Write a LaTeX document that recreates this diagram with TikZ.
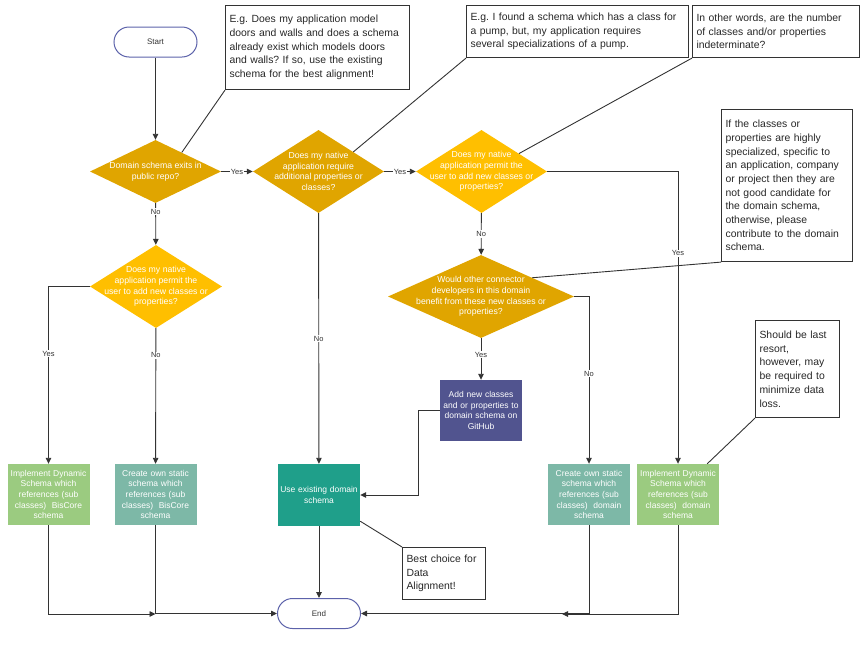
\documentclass[tikz,border=0pt]{standalone}
\usepackage{fontspec}
\setmainfont{Liberation Sans}
\usetikzlibrary{shapes.geometric,calc,arrows.meta}
\frenchspacing
\definecolor{gold}{HTML}{E0A500}
\definecolor{amber}{HTML}{FFBF00}
\definecolor{leaf}{HTML}{9BCB80}
\definecolor{sage}{HTML}{7DB8A7}
\definecolor{jade}{HTML}{1F9F8A}
\definecolor{indigo}{HTML}{51548F}
\definecolor{rim}{HTML}{5C62AA}
\tikzset{
  term/.style={draw=rim,line width=1pt,rounded corners=15pt,minimum width=83pt,minimum height=30pt,font=\fontsize{8}{10}\selectfont,text=black!80},
  dec/.style={diamond,inner sep=0pt,minimum width=131pt,minimum height=83pt},
  dtext/.style={text=white,align=center,inner sep=0pt,font=\fontsize{8.7}{10.6}\selectfont},
  proc/.style={minimum width=82pt,minimum height=61pt,text width=82pt,inner sep=0pt,align=center,text=white,font=\fontsize{8.5}{10.7}\selectfont},
  note/.style={draw=black!80,line width=1.1pt,anchor=north west,align=left,inner sep=4pt,font=\fontsize{10.4}{13.7}\selectfont,text=black!85},
  lbl/.style={fill=white,inner sep=1pt,font=\fontsize{7.5}{9}\selectfont,text=black!80},
  link/.style={draw=black!80,line width=0.9pt}
}
\begin{document}
\begin{tikzpicture}[x=1pt,y=-1pt,>={Triangle[length=6pt,width=5.5pt]}]
\useasboundingbox (0,0) rectangle (865,659);
% terminals
\node[term] (start) at (155.5,42) {Start};
\node[term] (end) at (319,613.5) {End};
% decisions
\node[dec,fill=gold,minimum height=63pt] (d1) at (155.5,171.5) {};
\node[dtext] (t1) at (d1) {Domain schema exits in\\public repo?};
\node[dec,fill=gold] (d2) at (318.5,171.5) {};
\node[dtext] (t2) at (d2) {Does my native\\application require\\additional properties or\\classes?};
\node[dec,fill=amber] (d3) at (481.5,171.5) {};
\node[dtext] (t3) at (d3) {Does my native\\application permit the\\user to add new classes or\\properties?};
\node[dec,fill=gold,minimum width=186pt] (d4) at (481,296.5) {};
\node[dtext] (t4) at (d4) {Would other connector\\developers in this domain\\benefit from these new classes or\\properties?};
\node[dec,fill=amber,minimum width=132pt] (d5) at (156,286.5) {};
\node[dtext] (t5) at (d5) {Does my native\\application permit the\\user to add new classes or\\properties?};
% processes
\node[proc,fill=leaf] (impl1) at (48.5,494.5) {Implement Dynamic\\Schema which\\references (sub\\classes)~~BisCore\\schema};
\node[proc,fill=sage] (cre1) at (155.5,494.5) {Create own static\\schema which\\references (sub\\classes)~~BisCore\\schema};
\node[proc,fill=jade,minimum height=62pt] (use) at (319,495) {Use existing domain\\schema};
\node[proc,fill=indigo] (add) at (481,410.5) {Add new classes\\and or properties to\\domain schema on\\GitHub};
\node[proc,fill=sage] (cre2) at (589,494.5) {Create own static\\schema which\\references (sub\\classes)~~domain\\schema};
\node[proc,fill=leaf] (impl2) at (678,494.5) {Implement Dynamic\\Schema which\\references (sub\\classes)~~domain\\schema};
% notes
\node[note,text width=176pt,minimum height=84pt] (n1) at (225,5) {E.g. Does my application model\\doors and walls and does a schema\\already exist which models doors\\and walls? If so, use the existing\\schema for the best alignment!};
\node[note,text width=214pt,minimum height=52pt] (n2) at (466,5) {E.g. I found a schema which has a class for\\a pump, but, my application requires\\several specializations of a pump.};
\node[note,text width=159pt,minimum height=52pt] (n3) at (692,5) {In other words, are the number\\of classes and/or properties\\indeterminate?};
\node[note,text width=123pt,minimum height=152pt] (n4) at (721,109) {If the classes or\\properties are highly\\specialized, specific to\\an application, company\\or project then they are\\not good candidate for\\the domain schema,\\otherwise, please\\contribute to the domain\\schema.};
\node[note,text width=75pt,minimum height=52pt] (n5) at (402,547) {Best choice for\\Data\\Alignment!};
\node[note,text width=76pt,minimum height=97pt] (n6) at (755,320) {Should be last\\resort,\\however, may\\be required to\\minimize data\\loss.};
\coordinate (j1) at (155.5,614);
\coordinate (j2) at (562,614);
% flow
\draw[link,->] (start) -- (d1);
\draw[link,->] (d1) -- node[lbl]{Yes} (d2);
\draw[link,->] (d2) -- node[lbl]{Yes} (d3);
\draw[link,->] (d1) -- node[lbl,pos=0.2]{No} (d5);
\draw[link,->] (d2) -- node[lbl]{No} (use);
\draw[link,->] (d3) -- node[lbl]{No} (d4);
\draw[link,->] (d3.east) -| node[lbl,pos=0.64]{Yes} (impl2.north);
\draw[link,->] (d4) -- node[lbl,pos=0.4]{Yes} (add);
\draw[link,->] (d4.east) -| node[lbl,pos=0.73]{No} (cre2.north);
\draw[link,->] (d5.west) -| node[lbl,pos=0.69]{Yes} (impl1.north);
\draw[link,->] (d5) -- node[lbl,pos=0.2]{No} (cre1);
\draw[link,->] (add.west) -- ++(-21,0) |- (use.east);
\draw[link,->] (use) -- (end);
\draw[link,->] (impl1.south) |- (j1);
\draw[link,->] (cre1.south) |- (end.west);
\draw[link,->] (cre2.south) |- (end.east);
\draw[link,->] (impl2.south) |- (j2);
% note leaders
\draw[link] (n1.south west) -- ($(d1.north)!0.4!(d1.east)$);
\draw[link] (n2.south west) -- ($(d2.north)!0.53!(d2.east)$);
\draw[link] (n3.south west) -- ($(d3.north)!0.57!(d3.east)$);
\draw[link] (n4.south west) -- ($(d4.north)!0.55!(d4.east)$);
\draw[link] (n5.north west) -- ($(use.south east)+(0,-5)$);
\draw[link] (n6.south west) -- ($(impl2.north east)+(-12,0)$);
\end{tikzpicture}
\end{document}
